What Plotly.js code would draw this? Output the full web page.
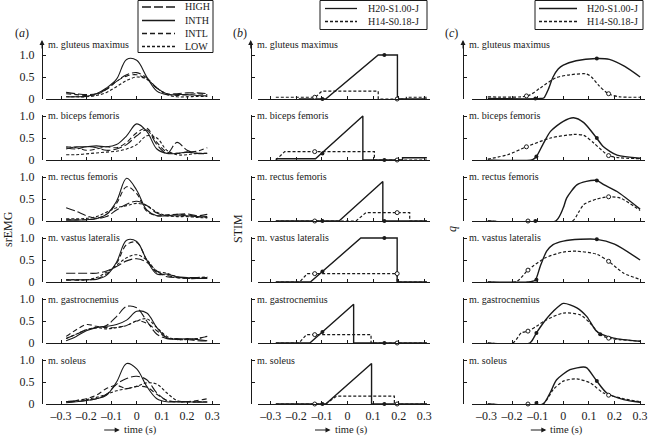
<!DOCTYPE html>
<html><head><meta charset="utf-8">
<script src="https://cdn.plot.ly/plotly-3.0.1.min.js"></script>
<style>html,body{margin:0;padding:0;background:#fff}#chart{width:648px;height:436px}</style>
</head><body><div id="chart"></div>
<script>
// ---------------- data ----------------
const muscles = ['m. gluteus maximus','m. biceps femoris','m. rectus femoris','m. vastus lateralis','m. gastrocnemius','m. soleus'];
const xTickVals = [-0.3,-0.2,-0.1,0,0.1,0.2,0.3];
const xTickText = ['\u20130.3','\u20130.2','\u20130.1','0','0.1','0.2','0.3'];
const emgTickText = ['0','0.5','1.0'];
const emgNames = ['HIGH','INTH','INTL','LOW'];
const simNames = ['H20-S1.00-J','H14-S0.18-J'];

// (a) srEMG, time grid
const tA = [-0.28,-0.24,-0.2,-0.16,-0.12,-0.08,-0.04,0,0.04,0.08,0.12,0.16,0.2,0.24,0.28];
const emgHIGH = [
 [0.15,0.12,0.10,0.12,0.22,0.40,0.55,0.60,0.48,0.25,0.12,0.12,0.14,0.14,0.12],
 [0.28,0.25,0.30,0.28,0.22,0.25,0.35,0.55,0.68,0.35,0.15,0.40,0.22,0.15,0.15],
 [0.30,0.22,0.12,0.06,0.10,0.25,0.38,0.45,0.35,0.18,0.12,0.15,0.16,0.12,0.15],
 [0.20,0.20,0.20,0.20,0.25,0.35,0.48,0.53,0.45,0.25,0.12,0.10,0.10,0.10,0.10],
 [0.10,0.20,0.30,0.35,0.40,0.60,0.83,0.80,0.50,0.20,0.10,0.10,0.08,0.05,0.05],
 [0.05,0.06,0.08,0.12,0.22,0.45,0.58,0.63,0.55,0.25,0.08,0.05,0.05,0.05,0.05]
];
const emgINTH = [
 [0.05,0.05,0.06,0.12,0.25,0.45,0.90,0.88,0.50,0.18,0.10,0.10,0.10,0.08,0.07],
 [0.25,0.30,0.30,0.32,0.30,0.35,0.55,0.82,0.65,0.25,0.15,0.15,0.18,0.15,0.15],
 [0.02,0.02,0.03,0.05,0.15,0.45,0.97,0.70,0.25,0.12,0.12,0.12,0.12,0.10,0.10],
 [0.05,0.05,0.05,0.06,0.15,0.45,0.95,0.92,0.50,0.18,0.18,0.12,0.10,0.08,0.08],
 [0.05,0.15,0.28,0.35,0.38,0.42,0.52,0.72,0.68,0.35,0.12,0.08,0.10,0.08,0.05],
 [0.03,0.05,0.08,0.12,0.20,0.50,0.92,0.80,0.40,0.12,0.05,0.05,0.05,0.04,0.04]
];
const emgINTL = [
 [0.12,0.10,0.08,0.10,0.22,0.40,0.52,0.55,0.45,0.25,0.12,0.08,0.10,0.12,0.10],
 [0.30,0.28,0.22,0.25,0.30,0.28,0.40,0.62,0.72,0.40,0.18,0.15,0.18,0.20,0.28],
 [0.03,0.03,0.03,0.06,0.15,0.40,0.78,0.62,0.22,0.12,0.14,0.15,0.14,0.10,0.08],
 [0.04,0.04,0.05,0.07,0.18,0.42,0.85,0.90,0.50,0.22,0.15,0.10,0.08,0.08,0.10],
 [0.15,0.30,0.42,0.38,0.35,0.35,0.40,0.50,0.45,0.28,0.12,0.08,0.08,0.10,0.15],
 [0.05,0.08,0.12,0.20,0.35,0.42,0.35,0.40,0.38,0.22,0.08,0.05,0.05,0.08,0.12]
];
const emgLOW = [
 [0.05,0.05,0.05,0.08,0.15,0.28,0.42,0.50,0.45,0.25,0.10,0.05,0.05,0.06,0.06],
 [0.12,0.12,0.14,0.16,0.18,0.20,0.25,0.35,0.55,0.50,0.22,0.12,0.12,0.15,0.15],
 [0.05,0.05,0.06,0.10,0.20,0.30,0.35,0.40,0.35,0.20,0.12,0.10,0.10,0.08,0.07],
 [0.05,0.05,0.05,0.10,0.22,0.38,0.55,0.62,0.50,0.25,0.20,0.12,0.08,0.10,0.12],
 [0.10,0.20,0.30,0.35,0.32,0.35,0.40,0.50,0.55,0.35,0.15,0.08,0.08,0.10,0.15],
 [0.05,0.08,0.10,0.15,0.22,0.30,0.35,0.40,0.48,0.45,0.25,0.08,0.05,0.05,0.05]
];

// (b) STIM, piecewise linear vertices
const stimST = [
 [-0.19,-0.085,0.12,0.195,0.195,0.31],
 [-0.28,-0.125,0.06,0.06,0.215,0.215,0.31],
 [-0.28,-0.033,0.138,0.138,0.31],
 [-0.28,-0.145,0.052,0.194,0.194,0.31],
 [-0.28,-0.147,0.024,0.024,0.31],
 [-0.28,-0.085,0.094,0.094,0.31]
];
const stimSV = [
 [0,0,1,1,0,0],
 [0.03,0.03,1,0,0,0.05,0.05],
 [0,0,0.9,0,0],
 [0,0,1,1,0,0],
 [0,0,0.88,0,0],
 [0,0,0.92,0,0]
];
const stimDT = [
 [-0.28,-0.125,-0.1,0.12,0.12,0.23,0.23,0.31],
 [-0.28,-0.245,0.105,0.105,0.31],
 [-0.28,0.033,0.072,0.243,0.243,0.31],
 [-0.28,-0.187,-0.157,0.194,0.194,0.31],
 [-0.28,-0.19,-0.16,0.092,0.092,0.31],
 [-0.28,-0.085,-0.042,0.183,0.183,0.31]
];
const stimDV = [
 [0.04,0.04,0.18,0.18,0,0,0.04,0.04],
 [0,0.19,0.19,0,0],
 [0,0,0.19,0.19,0,0],
 [0,0,0.19,0.19,0,0],
 [0,0,0.19,0.19,0,0],
 [0,0,0.18,0.18,0,0]
];
const stimSMarkT = [[-0.098,0.144],[-0.098,0.144],[-0.098,0.144],[-0.098,0.144],[-0.098,0.144],[-0.098,0.144]];
const stimSMarkV = [[0,1],[0.15,0],[0,0],[0.24,1],[0.25,0],[0,0]];
const stimDMarkT = [[-0.128,0.194],[-0.128,0.194],[-0.128,0.194],[-0.128,0.194],[-0.128,0.194],[-0.128,0.194]];
const stimDMarkV = [[0.04,0],[0.19,0],[0,0.19],[0.19,0.19],[0.19,0],[0,0]];

// (c) q
const qST = [
 [-0.295,-0.09,-0.075,-0.06,-0.04,-0.02,0,0.05,0.13,0.18,0.24,0.3],
 [-0.295,-0.12,-0.105,-0.08,-0.05,0,0.04,0.08,0.13,0.157,0.21,0.3],
 [-0.295,-0.03,0,0.013,0.053,0.09,0.131,0.16,0.21,0.3],
 [-0.295,-0.14,-0.11,-0.09,-0.065,-0.04,0,0.066,0.131,0.2,0.3],
 [-0.295,-0.131,-0.105,-0.079,-0.039,0,0.053,0.092,0.131,0.197,0.3],
 [-0.295,-0.08,-0.052,-0.026,0.026,0.079,0.092,0.131,0.17,0.236,0.3]
];
const qSV = [
 [0.01,0.01,0.03,0.2,0.5,0.68,0.77,0.87,0.92,0.9,0.74,0.5],
 [0,0.01,0.08,0.35,0.65,0.88,0.96,0.85,0.5,0.3,0.11,0.04],
 [0,0,0.3,0.52,0.82,0.9,0.92,0.82,0.67,0.27],
 [0,0,0.04,0.36,0.7,0.85,0.93,0.97,0.97,0.86,0.5],
 [0,0,0.23,0.45,0.72,0.9,0.8,0.6,0.26,0.11,0.04],
 [0,0,0.25,0.55,0.78,0.84,0.82,0.52,0.25,0.1,0.04]
];
const qDT = [
 [-0.295,-0.14,-0.09,-0.03,0.025,0.09,0.11,0.14,0.175,0.22,0.3],
 [-0.295,-0.217,-0.144,-0.05,0.04,0.08,0.12,0.177,0.22,0.3],
 [-0.295,0.035,0.06,0.079,0.131,0.177,0.223,0.3],
 [-0.295,-0.183,-0.138,-0.07,0,0.053,0.131,0.177,0.236,0.3],
 [-0.295,-0.197,-0.164,-0.138,-0.105,-0.065,0,0.066,0.105,0.144,0.177,0.3],
 [-0.295,-0.08,-0.039,0,0.053,0.105,0.157,0.236,0.3]
];
const qDV = [
 [0.05,0.07,0.25,0.48,0.55,0.57,0.5,0.3,0.12,0.05,0.04],
 [0.02,0.12,0.3,0.5,0.58,0.56,0.38,0.1,0.05,0.03],
 [0,0,0.2,0.37,0.5,0.55,0.52,0.24],
 [0,0.01,0.27,0.55,0.68,0.7,0.63,0.47,0.2,0.06],
 [0,0,0.23,0.27,0.38,0.53,0.68,0.64,0.45,0.19,0.11,0.04],
 [0,0,0.33,0.52,0.57,0.48,0.25,0.12,0.05]
];
const qSMarkT = [[-0.109,0.131],[-0.105,0.131],[-0.109,0.131],[-0.105,0.131],[-0.105,0.144],[-0.105,0.131]];
const qSMarkV = [[0.01,0.92],[0.08,0.5],[0,0.92],[0.05,0.97],[0.23,0.2],[0.02,0.52]];
const qDMarkT = [[-0.144,0.177],[-0.144,0.177],[-0.138,0.177],[-0.138,0.177],[-0.138,0.177],[-0.138,0.177]];
const qDMarkV = [[0.07,0.12],[0.3,0.1],[0,0.55],[0.27,0.47],[0.27,0.11],[0,0.2]];

// ---------------- layout geometry ----------------
const W = 648, H = 436;
const rowZero = [99,160,221,282,343,404];
const unit = 44;
const rowTop = [1.27,1.03,1.03,1.03,1.03,1.03];
const yAxisPx = [42,250.7,463];
const xStartPx = [46,258,471.5];
const xEndPx = [220,430,645];
const tZeroPx = [136.7,347.5,563.3];
const pxPerSec = [252,256,256];
const INK = '#1a1a1a';
const FONT = 'Liberation Serif, Times New Roman, serif';
const px = x => x / W;
const py = y => 1 - y / H;

const layout = {
  width: W, height: H, margin: {l:0, r:0, t:0, b:0},
  paper_bgcolor: '#ffffff', plot_bgcolor: 'rgba(0,0,0,0)', showlegend: false,
  font: {family: FONT, size: 11, color: INK},
  annotations: [], shapes: []
};
const data = [];

function idx(p, r) { return p * 6 + r + 1; }
function axName(k) { return k === 1 ? '' : String(k); }

for (let p = 0; p < 3; p++) {
  for (let r = 0; r < 6; r++) {
    const k = idx(p, r), s = axName(k);
    layout['xaxis' + s] = {
      domain: [px(xStartPx[p]), px(xEndPx[p])],
      range: [(xStartPx[p] - tZeroPx[p]) / pxPerSec[p], (xEndPx[p] - tZeroPx[p]) / pxPerSec[p]],
      anchor: 'y' + s, showline: true, linecolor: INK, linewidth: 1,
      ticks: 'inside', ticklen: 3, tickwidth: 1, tickcolor: INK,
      tickmode: 'array', tickvals: xTickVals, ticktext: xTickText,
      showticklabels: r === 5, ticklabelstandoff: 1,
      showgrid: false, zeroline: false, fixedrange: true,
      tickfont: {family: FONT, size: 12, color: INK}
    };
    layout['yaxis' + s] = {
      domain: [py(rowZero[r]), py(rowZero[r] - unit * rowTop[r])],
      range: [0, rowTop[r]], anchor: 'free', position: px(yAxisPx[p]),
      showline: true, linecolor: INK, linewidth: 1,
      ticks: 'inside', ticklen: 3, tickwidth: 1, tickcolor: INK,
      tickmode: 'array', tickvals: [0, 0.5, 1], ticktext: emgTickText,
      showticklabels: p === 0, ticklabelstandoff: 5,
      showgrid: false, zeroline: false, fixedrange: true,
      tickfont: {family: FONT, size: 12, color: INK}
    };
    // muscle title
    layout.annotations.push({
      xref: 'paper', yref: 'paper', x: px(yAxisPx[p] + 4), y: py(r === 0 ? 44 : rowZero[r] - 44),
      xanchor: 'left', yanchor: 'middle', showarrow: false, text: muscles[r],
      font: {family: FONT, size: 10, color: INK}
    });
    if (r === 0) {
      layout.annotations.push({
        xref: 'paper', yref: 'paper', x: px(yAxisPx[p]), y: py(40),
        ax: 0, ay: 10, showarrow: true, arrowhead: 2, arrowsize: 1, arrowwidth: 1,
        arrowcolor: INK, text: ''
      });
    }
  }
}

// panel (a) traces
const emgSeries = [emgHIGH, emgINTH, emgINTL, emgLOW];
const emgDash = ['9px,3px', 'solid', '5px,3px', '3px,2px'];
for (let r = 0; r < 6; r++) {
  const s = axName(idx(0, r));
  emgSeries.forEach((ser, i) => {
    data.push({x: tA, y: ser[r], xaxis: 'x' + s, yaxis: 'y' + s, mode: 'lines', name: emgNames[i],
      line: {color: INK, width: 1.1, dash: emgDash[i], shape: 'spline', smoothing: 1}, hoverinfo: 'skip'});
  });
}

// panels (b) and (c)
function addSim(p, ST, SV, DT, DV, SMT, SMV, DMT, DMV, shape) {
  for (let r = 0; r < 6; r++) {
    const s = axName(idx(p, r));
    const base = {xaxis: 'x' + s, yaxis: 'y' + s, hoverinfo: 'skip'};
    data.push(Object.assign({x: DT[r], y: DV[r], mode: 'lines', name: simNames[1],
      line: {color: INK, width: 1.2, dash: '3px,2px', shape: shape, smoothing: 0.7}}, base));
    data.push(Object.assign({x: ST[r], y: SV[r], mode: 'lines', name: simNames[0],
      line: {color: INK, width: 1.4, shape: shape, smoothing: 0.7}}, base));
    data.push(Object.assign({x: SMT[r], y: SMV[r], mode: 'markers', name: simNames[0],
      marker: {size: 4, color: INK}, cliponaxis: false}, base));
    data.push(Object.assign({x: DMT[r], y: DMV[r], mode: 'markers', name: simNames[1],
      marker: {size: 4, color: '#ffffff', line: {color: INK, width: 1}}, cliponaxis: false}, base));
  }
}
addSim(1, stimST, stimSV, stimDT, stimDV, stimSMarkT, stimSMarkV, stimDMarkT, stimDMarkV, 'linear');
addSim(2, qST, qSV, qDT, qDV, qSMarkT, qSMarkV, qDMarkT, qDMarkV, 'spline');

// panel letters, axis titles, time labels
const letters = ['a','b','c'];
const letterX = [22, 240, 451];
letters.forEach((l, p) => {
  layout.annotations.push({xref:'paper', yref:'paper', x: px(letterX[p]), y: py(33), xanchor:'center', yanchor:'middle',
    showarrow:false, text:'(<i>' + l + '</i>)', font:{family:FONT, size:12, color:INK}});
  const tx = tZeroPx[p] - 15;
  layout.annotations.push({xref:'paper', yref:'paper', x: px(tx), y: py(429.5), xanchor:'left', yanchor:'middle',
    showarrow:false, text:'time (s)', font:{family:FONT, size:10.5, color:INK}});
  layout.annotations.push({xref:'paper', yref:'paper', x: px(tx - 2), y: py(430), ax: -17, ay: 0,
    showarrow:true, arrowhead:2, arrowsize:1, arrowwidth:1, arrowcolor:INK, text:''});
});
const yTitles = [['srEMG', 8], ['STIM', 238], ['<i>q</i>', 452]];
yTitles.forEach(([t, x]) => {
  layout.annotations.push({xref:'paper', yref:'paper', x: px(x), y: py(229), xanchor:'center', yanchor:'middle',
    showarrow:false, textangle:-90, text:t, font:{family:FONT, size:12, color:INK}});
});

// legends (drawn)
function legendBox(x0, x1, y0, y1, items, lx0, lx1, tx) {
  layout.shapes.push({type:'rect', xref:'paper', yref:'paper', x0:px(x0), x1:px(x1), y0:py(y0), y1:py(y1),
    line:{color:INK, width:1}, fillcolor:'#ffffff', layer:'above'});
  items.forEach(([name, dash, y]) => {
    layout.shapes.push({type:'line', xref:'paper', yref:'paper', x0:px(lx0), x1:px(lx1), y0:py(y), y1:py(y),
      line:{color:INK, width:1.3, dash:dash}, layer:'above'});
    layout.annotations.push({xref:'paper', yref:'paper', x:px(tx), y:py(y), xanchor:'left', yanchor:'middle',
      showarrow:false, text:name, font:{family:FONT, size:10, color:INK}});
  });
}
legendBox(138, 213, 0.5, 52.5, [
  [emgNames[0], '9px,3px', 7], [emgNames[1], 'solid', 20.5], [emgNames[2], '5px,3px', 33.5], [emgNames[3], '3px,2px', 46.5]
], 142, 175, 183);
legendBox(320, 427, 0.5, 29.5, [[simNames[0], 'solid', 8.5], [simNames[1], '3px,2px', 21.5]], 325, 357, 366);
legendBox(535, 643, 0.5, 29.5, [[simNames[0], 'solid', 8.5], [simNames[1], '3px,2px', 21.5]], 539, 577, 585);

Plotly.newPlot('chart', data, layout, {staticPlot: true, displayModeBar: false});
</script>
</body></html>
